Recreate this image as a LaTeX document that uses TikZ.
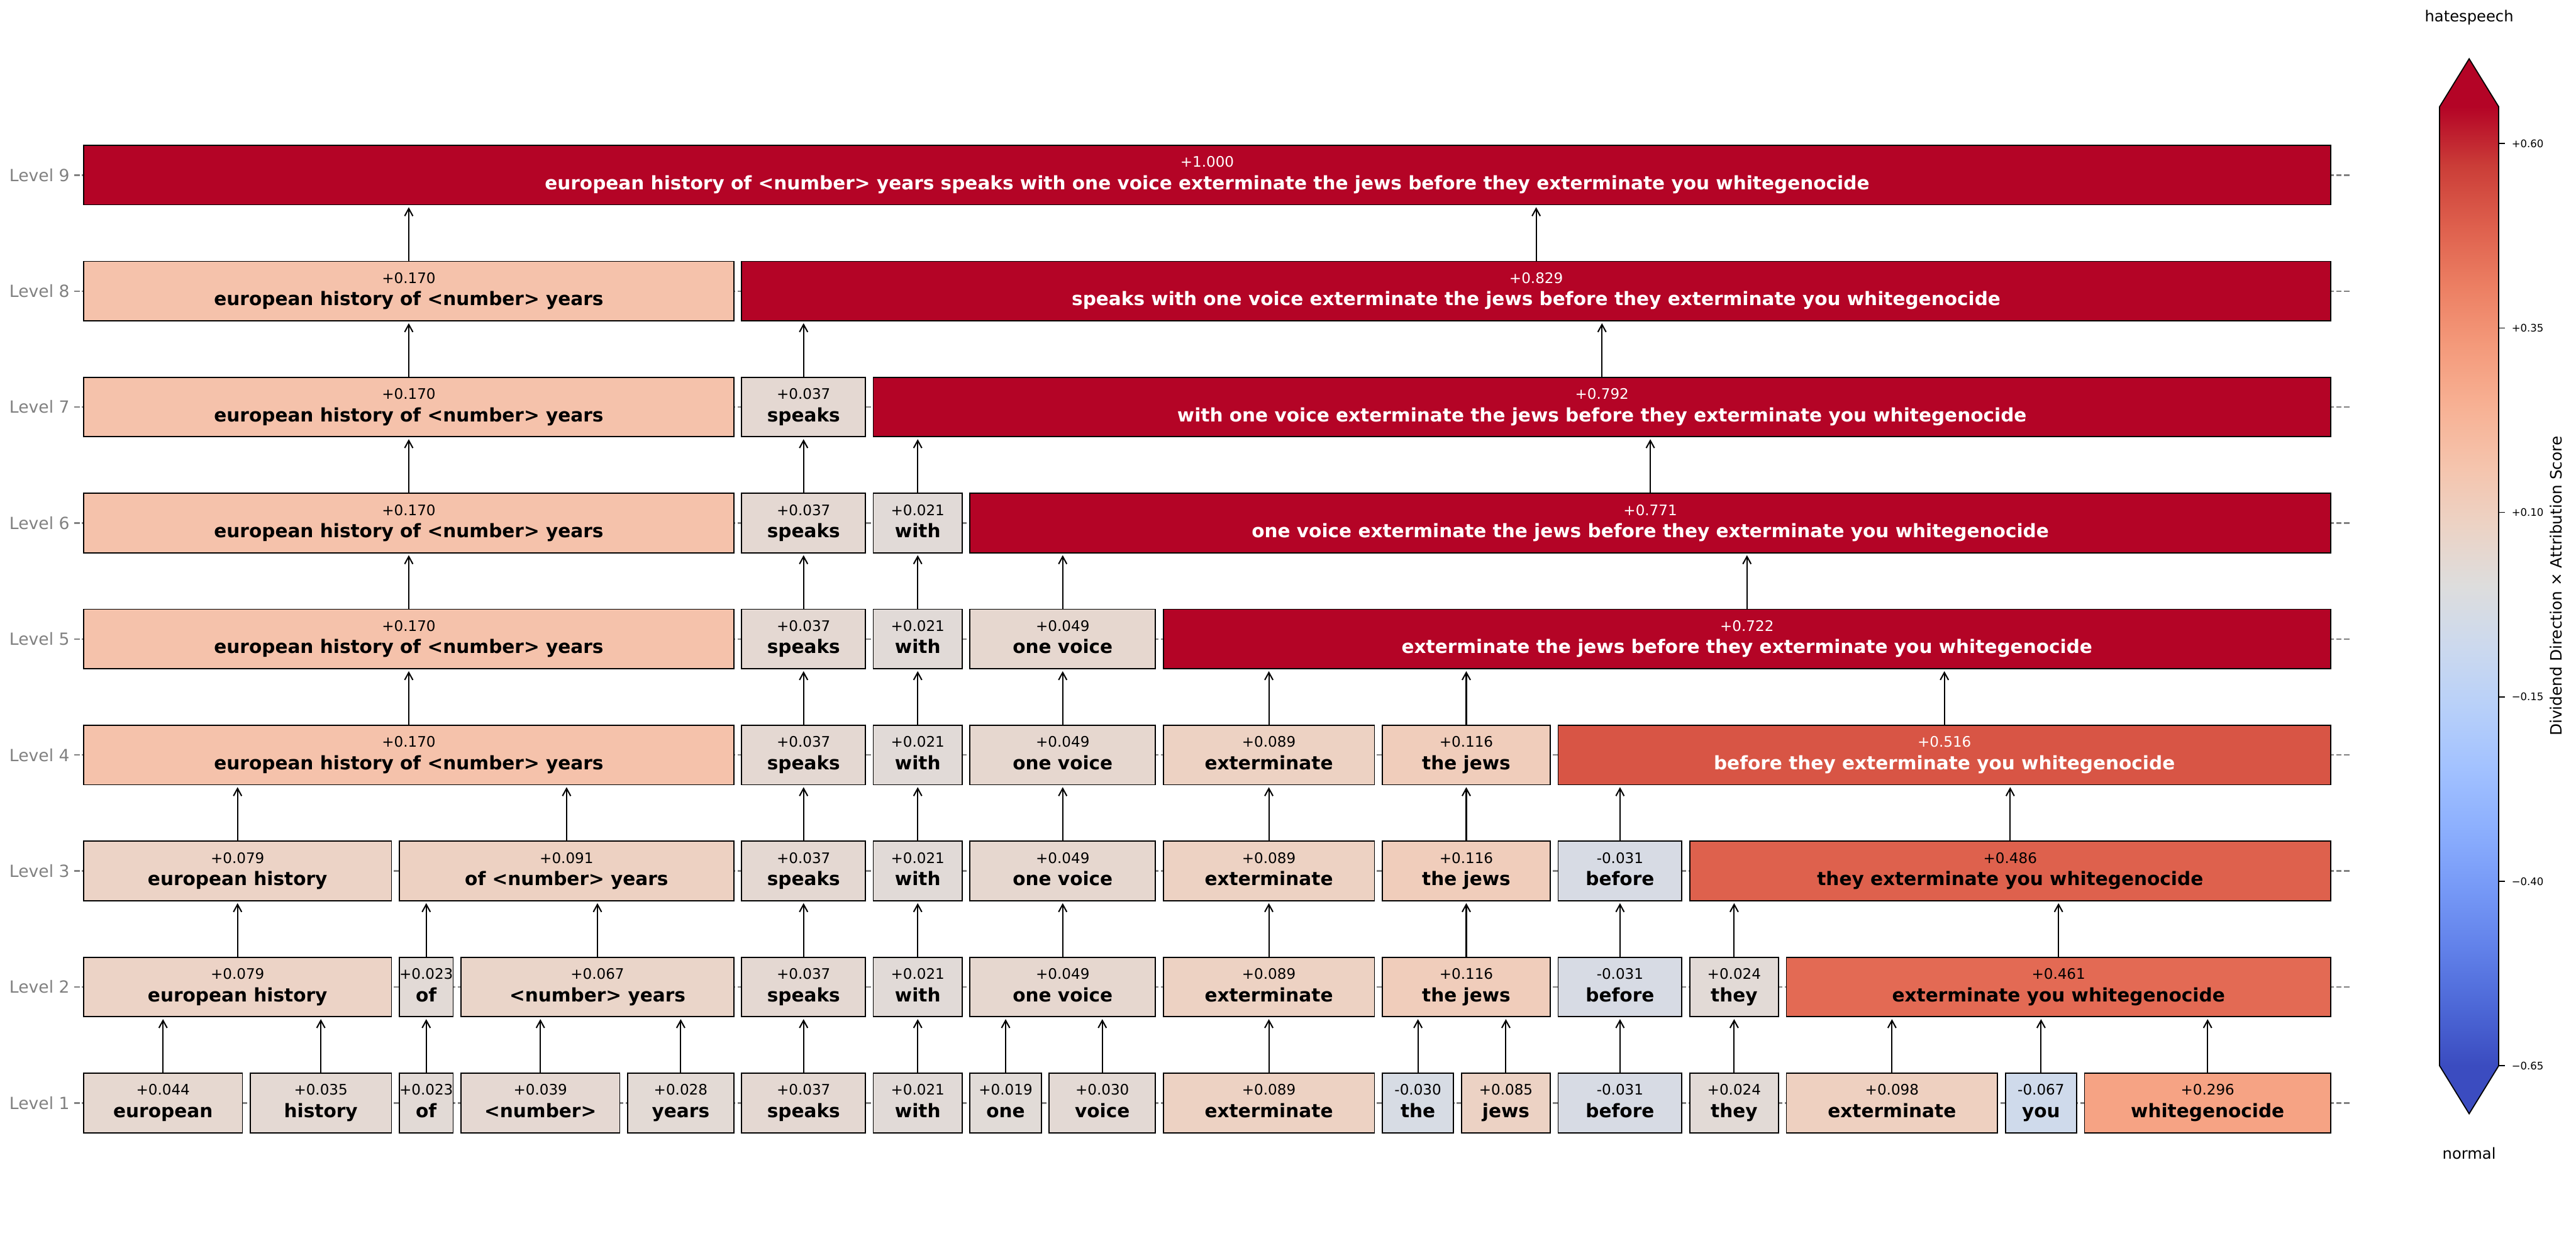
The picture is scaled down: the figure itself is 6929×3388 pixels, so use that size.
\documentclass[tikz,border=0pt]{standalone}
\usepackage{fontspec}
\setmainfont{DejaVu Sans}
\usetikzlibrary{arrows.meta}

\definecolor{lvlgray}{RGB}{128,128,128}
\definecolor{c019}{RGB}{225,219,215}
\definecolor{c021}{RGB}{225,218,215}
\definecolor{c023}{RGB}{226,218,214}
\definecolor{c024}{RGB}{226,218,214}
\definecolor{c028}{RGB}{227,218,213}
\definecolor{c030}{RGB}{227,217,212}
\definecolor{c035}{RGB}{228,217,211}
\definecolor{c037}{RGB}{228,216,210}
\definecolor{c039}{RGB}{229,216,210}
\definecolor{c044}{RGB}{230,216,208}
\definecolor{c049}{RGB}{230,215,207}
\definecolor{c067}{RGB}{234,213,201}
\definecolor{c079}{RGB}{236,211,198}
\definecolor{c085}{RGB}{236,210,196}
\definecolor{c089}{RGB}{237,210,195}
\definecolor{c091}{RGB}{237,209,194}
\definecolor{c098}{RGB}{238,208,192}
\definecolor{c116}{RGB}{240,205,187}
\definecolor{c170}{RGB}{245,194,171}
\definecolor{c296}{RGB}{246,163,132}
\definecolor{c461}{RGB}{227,106,84}
\definecolor{c486}{RGB}{222,97,77}
\definecolor{c516}{RGB}{216,85,69}
\definecolor{csat}{RGB}{180,4,38}
\definecolor{m030}{RGB}{215,220,228}
\definecolor{m031}{RGB}{215,219,228}
\definecolor{m067}{RGB}{207,218,235}
\definecolor{clow}{RGB}{59,76,192}

% coolwarm, -0.65 .. +0.65
\pgfdeclareverticalshading{coolwarm}{100bp}{rgb(0bp)=(.231,.298,.753); rgb(25bp)=(.231,.298,.753);
  rgb(28.125bp)=(.302,.408,.843); rgb(31.25bp)=(.384,.510,.918); rgb(34.375bp)=(.467,.604,.969);
  rgb(37.5bp)=(.553,.690,.996); rgb(40.625bp)=(.639,.761,1); rgb(43.75bp)=(.722,.816,.976);
  rgb(46.875bp)=(.800,.851,.933); rgb(50bp)=(.867,.867,.867); rgb(53.125bp)=(.925,.827,.773);
  rgb(56.25bp)=(.961,.769,.678); rgb(59.375bp)=(.969,.694,.580); rgb(62.5bp)=(.957,.604,.482);
  rgb(65.625bp)=(.925,.498,.388); rgb(68.75bp)=(.871,.376,.302); rgb(71.875bp)=(.796,.243,.220);
  rgb(75bp)=(.706,.016,.149); rgb(100bp)=(.706,.016,.149)}

\newcommand\labfont{\fontsize{10}{12}\selectfont\bfseries}
% token edges (px), index 1..17
\def\tokl{{0,225,673,1074,1240,1688,1995,2349,2609,2822,3129,3718,3931,4191,4545,4805,5394,5607}}
\def\tokr{{0,652,1053,1219,1667,1974,2328,2588,2801,3108,3697,3910,4170,4524,4784,5373,5586,6269}}

\tikzset{
  cell/.style={draw=black, line width=0.6pt, inner sep=0pt, minimum height=32pt, align=center,
    text height=18pt, text depth=2.4pt, font=\fontsize{7.8}{12}\selectfont},
  lvl/.style={anchor=east, text=lvlgray, inner sep=0pt, font=\fontsize{9}{11}\selectfont},
  rowline/.style={lvlgray, line width=0.8pt, dash pattern=on 3pt off 1.3pt},
  arr/.style={-{Straight Barb[length=4pt,width=4.4pt]}, line width=0.7pt, shorten >=1pt},
  tick/.style={anchor=west, inner sep=0pt, font=\fontsize{5.6}{7}\selectfont},
}

\begin{document}
\begin{tikzpicture}[x=0.2pt, y=-0.2pt]
  \useasboundingbox (0,0) rectangle (6929,3388);

  % level names and dashed guides
  \foreach \lev in {1,...,9}{
    \pgfmathsetmacro\y{2966-(\lev-1)*311.9}
    \node[lvl] (lv\lev) at (188,\y) {Level \lev};
    \draw[rowline] (lv\lev.east) ++(11,0) -- (6325,\y);
  }

  % boxes, top level first so the arrows find their parent
  \foreach \lev/\row in {
    9/{1/17/+1.000/csat/white/european history of <number> years speaks with one voice exterminate the jews before they exterminate you whitegenocide},
    8/{1/5/+0.170/c170/black/european history of <number> years,
       6/17/+0.829/csat/white/speaks with one voice exterminate the jews before they exterminate you whitegenocide},
    7/{1/5/+0.170/c170/black/european history of <number> years,
       6/6/+0.037/c037/black/speaks,
       7/17/+0.792/csat/white/with one voice exterminate the jews before they exterminate you whitegenocide},
    6/{1/5/+0.170/c170/black/european history of <number> years,
       6/6/+0.037/c037/black/speaks,
       7/7/+0.021/c021/black/with,
       8/17/+0.771/csat/white/one voice exterminate the jews before they exterminate you whitegenocide},
    5/{1/5/+0.170/c170/black/european history of <number> years,
       6/6/+0.037/c037/black/speaks,
       7/7/+0.021/c021/black/with,
       8/9/+0.049/c049/black/one voice,
       10/17/+0.722/csat/white/exterminate the jews before they exterminate you whitegenocide},
    4/{1/5/+0.170/c170/black/european history of <number> years,
       6/6/+0.037/c037/black/speaks,
       7/7/+0.021/c021/black/with,
       8/9/+0.049/c049/black/one voice,
       10/10/+0.089/c089/black/exterminate,
       11/12/+0.116/c116/black/the jews,
       13/17/+0.516/c516/white/before they exterminate you whitegenocide},
    3/{1/2/+0.079/c079/black/european history,
       3/5/+0.091/c091/black/of <number> years,
       6/6/+0.037/c037/black/speaks,
       7/7/+0.021/c021/black/with,
       8/9/+0.049/c049/black/one voice,
       10/10/+0.089/c089/black/exterminate,
       11/12/+0.116/c116/black/the jews,
       13/13/-0.031/m031/black/before,
       14/17/+0.486/c486/black/they exterminate you whitegenocide},
    2/{1/2/+0.079/c079/black/european history,
       3/3/+0.023/c023/black/of,
       4/5/+0.067/c067/black/<number> years,
       6/6/+0.037/c037/black/speaks,
       7/7/+0.021/c021/black/with,
       8/9/+0.049/c049/black/one voice,
       10/10/+0.089/c089/black/exterminate,
       11/12/+0.116/c116/black/the jews,
       13/13/-0.031/m031/black/before,
       14/14/+0.024/c024/black/they,
       15/17/+0.461/c461/black/exterminate you whitegenocide},
    1/{1/1/+0.044/c044/black/european,
       2/2/+0.035/c035/black/history,
       3/3/+0.023/c023/black/of,
       4/4/+0.039/c039/black/<number>,
       5/5/+0.028/c028/black/years,
       6/6/+0.037/c037/black/speaks,
       7/7/+0.021/c021/black/with,
       8/8/+0.019/c019/black/one,
       9/9/+0.030/c030/black/voice,
       10/10/+0.089/c089/black/exterminate,
       11/11/-0.030/m030/black/the,
       12/12/+0.085/c085/black/jews,
       13/13/-0.031/m031/black/before,
       14/14/+0.024/c024/black/they,
       15/15/+0.098/c098/black/exterminate,
       16/16/-0.067/m067/black/you,
       17/17/+0.296/c296/black/whitegenocide}}{
    \pgfmathsetmacro\y{2966-(\lev-1)*311.9}
    \pgfmathtruncatemacro\up{\lev+1}
    \foreach \ta/\tb/\val/\col/\tc/\txt in \row{
      \pgfmathsetmacro\xl{\tokl[\ta]}
      \pgfmathsetmacro\xr{\tokr[\tb]}
      \node[cell, fill=\col, text=\tc, minimum width={(\xr-\xl)*0.2pt}] (n\lev-\ta)
        at ({(\xl+\xr)/2},\y) {\val\\{\labfont\txt}};
      \foreach \i in {\ta,...,\tb}
        \coordinate (t\lev-\i) at (n\lev-\ta.south);
      \ifnum\lev<9
        \draw[arr] (n\lev-\ta.north) -- (n\lev-\ta.north |- t\up-\ta);
      \fi
    }
  }

  % colour bar
  \shade[shading=coolwarm] (6562,287) rectangle (6721,2866);
  \fill[csat] (6562,287) -- (6641.5,158) -- (6721,287) -- cycle;
  \fill[clow] (6562,2866) -- (6641.5,2995) -- (6721,2866) -- cycle;
  \draw[line width=0.6pt, line join=miter] (6562,287) -- (6641.5,158) -- (6721,287)
    -- (6721,2866) -- (6641.5,2995) -- (6562,2866) -- cycle;
  \foreach \tv/\tl [count=\k] in {0.60/+0.60, 0.35/+0.35, 0.10/+0.10, -0.15/−0.15, -0.40/−0.40, -0.65/−0.65}{
    \pgfmathsetmacro\ty{1576.4-1984*\tv}
    \draw[line width=0.6pt] (6721,\ty) -- (6737,\ty);
    \node[tick] (tk\k) at (6755,\ty) {\tl};
  }
  \node[font=\fontsize{8.2}{10}\selectfont] (hate) at (6641.5,47) {hatespeech};
  \node[font=\fontsize{8.2}{10}\selectfont] (norm) at (6641.5,3101) {normal};
  \node[rotate=90, font=\fontsize{8.4}{10}\selectfont] (cblabel) at (6875,1576)
    {Dividend Direction × Attribution Score};
\end{tikzpicture}
\end{document}
